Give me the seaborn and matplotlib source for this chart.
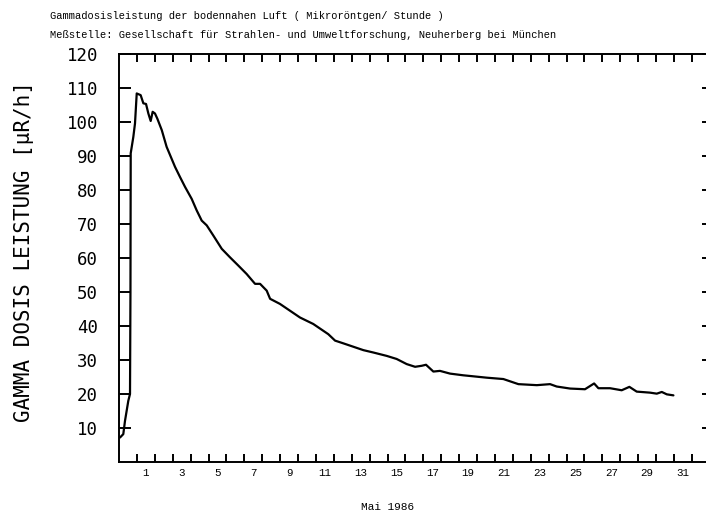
import numpy as np
import pandas as pd
import matplotlib
matplotlib.use("Agg")
import matplotlib.pyplot as plt
import seaborn as sns

# time in days since 30 April 1986 00:00 (1 = 1 May 00:00)
days = [0.056, 0.24, 0.335, 0.52, 0.615, 0.64, 0.654, 0.80, 0.894, 0.99,
        1.21, 1.36, 1.51, 1.64, 1.77, 1.88, 2.01, 2.14, 2.39, 2.66,
        3.13, 3.41, 3.69, 4.06, 4.34, 4.62, 4.90, 5.27, 5.74, 6.20,
        6.66, 7.13, 7.60, 7.88, 8.25, 8.44, 8.99, 9.55, 10.11, 10.85,
        11.41, 11.69, 12.07, 12.53, 13.09, 13.65, 14.21, 14.96, 15.51, 16.07,
        16.54, 16.91, 17.15, 17.56, 17.93, 18.49, 19.23, 19.61, 20.54, 21.47,
        22.31, 23.34, 24.08, 24.45, 25.20, 26.03, 26.54, 26.78, 27.43, 28.08,
        28.51, 28.92, 29.66, 30.04, 30.32, 30.60, 30.97]
dose = [7.2, 8.2, 12.1, 18.0, 20.0, 50.0, 90.8, 95.6, 99.6, 108.4,
        107.9, 105.5, 105.3, 102.5, 100.3, 103.0, 102.5, 101.0, 97.6, 92.7,
        86.8, 83.8, 80.9, 77.4, 74.0, 71.0, 69.6, 66.6, 62.7, 60.2,
        57.8, 55.3, 52.4, 52.4, 50.4, 48.0, 46.5, 44.5, 42.5, 40.6,
        38.6, 37.6, 35.7, 34.9, 33.9, 32.9, 32.2, 31.2, 30.3, 28.8,
        28.0, 28.3, 28.6, 26.6, 26.8, 26.0, 25.5, 25.3, 24.8, 24.4,
        22.9, 22.6, 22.9, 22.2, 21.6, 21.4, 23.1, 21.7, 21.7, 21.1,
        22.1, 20.7, 20.4, 20.1, 20.6, 19.9, 19.6]

day_boundaries = list(range(1, 33))
day_labels = [1, 3, 5, 7, 9, 11, 13, 15, 17, 19, 21, 23, 25, 27, 29, 31]
y_ticks = [10, 20, 30, 40, 50, 60, 70, 80, 90, 100, 110, 120]

title1 = "Gammadosisleistung der bodennahen Luft ( Mikroröntgen/ Stunde )"
title2 = "Meßstelle: Gesellschaft für Strahlen- und Umweltforschung, Neuherberg bei München"
ylabel = "GAMMA DOSIS LEISTUNG [μR/h]"
xlabel = "Mai 1986"

sns.set_style("white")
plt.rcParams['font.family'] = ['DejaVu Sans Mono', 'DejaVu Sans']
plt.rcParams['text.color'] = 'black'
plt.rcParams['axes.labelcolor'] = 'black'
plt.rcParams['xtick.color'] = 'black'
plt.rcParams['ytick.color'] = 'black'

df = pd.DataFrame({"t": days, "v": dose})

fig = plt.figure(figsize=(7.06, 5.14), dpi=100)
ax = fig.add_axes([119/706, 52/514, (713.7-119)/706, 408/514])

sns.lineplot(data=df, x="t", y="v", color="black", linewidth=1.6, ax=ax,
             estimator=None, sort=False)

ax.set_xlim(0, 33.22)
ax.set_ylim(0, 120)

for s in ax.spines.values():
    s.set_linewidth(1.4)
    s.set_color("black")

ax.set_xticks(day_boundaries)
ax.set_xticklabels([])
ax.set_xticks([d + 0.5 for d in day_labels], minor=True)
ax.set_xticklabels([str(d) for d in day_labels], minor=True)
ax.tick_params(axis='x', which='major', direction='in', length=5.8, width=1.4,
               top=True, bottom=True, labelbottom=False, color='black')
ax.tick_params(axis='x', which='minor', length=0, pad=4.5, labelsize=7.8,
               bottom=True, top=False, labelcolor='black')
for lbl in ax.get_xticklabels(minor=True):
    lbl.set_family(['Liberation Mono', 'DejaVu Sans Mono'])

ax.set_yticks(y_ticks)
ax.set_yticklabels([str(v) for v in y_ticks])
ax.tick_params(axis='y', direction='in', length=8.4, width=1.4, left=True,
               right=True, pad=15, labelsize=12.5, color='black',
               labelcolor='black')

ax.set_ylabel(ylabel, fontsize=15, color='black', va='center')
ax.yaxis.set_label_coords(-0.160, 0.517)
ax.set_xlabel(xlabel, fontsize=8, color='black',
              family=['Liberation Mono', 'DejaVu Sans Mono'])
ax.xaxis.set_label_coords(0.452, -0.110)
ax.xaxis.label.set_va('center')

fig.text(50/706, (514-16)/514, title1, fontsize=7.45, va='center', ha='left',
         color='black', family=['Liberation Mono', 'DejaVu Sans Mono'])
fig.text(50/706, (514-35)/514, title2, fontsize=7.45, va='center', ha='left',
         color='black', family=['Liberation Mono', 'DejaVu Sans Mono'])

fig.savefig("out.png", dpi=100)
